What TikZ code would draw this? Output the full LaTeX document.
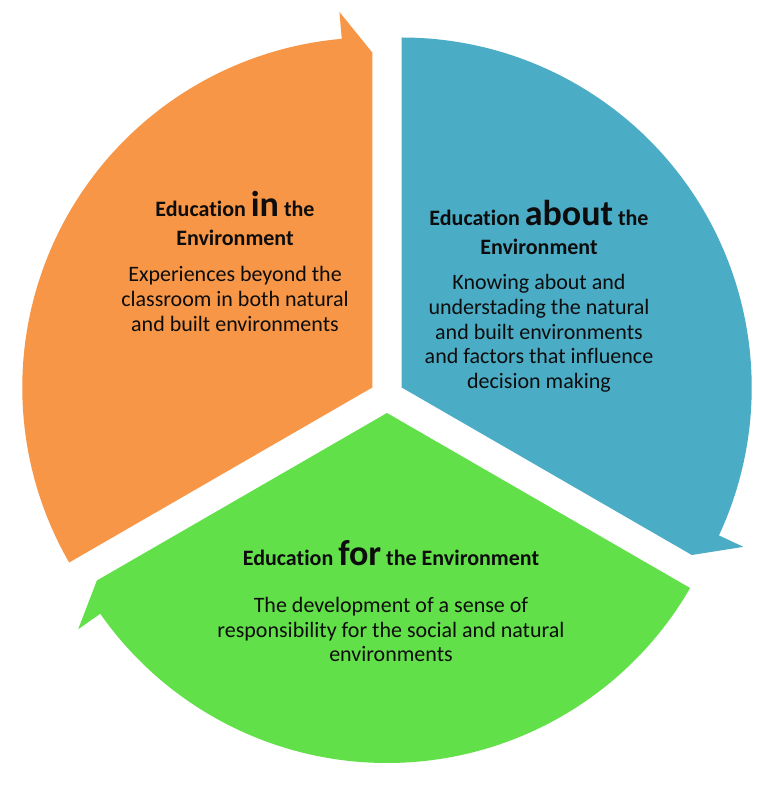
\documentclass[tikz,border=0pt]{standalone}
\usepackage{fontspec}
\setmainfont{Carlito}[Ligatures=NoCommon]
\definecolor{orangec}{RGB}{247,150,70}
\definecolor{bluec}{RGB}{75,172,198}
\definecolor{greenc}{RGB}{98,224,74}
\definecolor{txt}{RGB}{13,13,13}
\begin{document}
\begin{tikzpicture}[x=1pt,y=1pt,
  ln/.style={anchor=base, inner sep=0pt, text=txt, font=\fontsize{22}{25}\selectfont},
  hd/.style={anchor=base, inner sep=0pt, text=txt, font=\bfseries\fontsize{22}{24}\selectfont}]
\newcommand{\bigw}[1]{{\fontsize{36}{36}\selectfont #1}}
\fill[white] (-387,-404) rectangle (386,396);
\useasboundingbox (-387,-404) rectangle (386,396);
% orange sector
\begin{scope}[shift={(-14.72,8.5)}]
\fill[orangec] (0,0) -- (210:350) arc[start angle=210, end angle=95, radius=350] -- (95:377) -- (90:335) -- cycle;
\end{scope}
% blue sector
\begin{scope}[shift={(14.72,8.5)}]
\fill[bluec] (0,0) -- (90:350) arc[start angle=90, end angle=-25, radius=350] -- (-25:377) -- (-30:335) -- cycle;
\end{scope}
% green sector
\begin{scope}[shift={(0,-17)}]
\fill[greenc] (0,0) -- (330:350) arc[start angle=330, end angle=215, radius=350] -- (215:377) -- (210:335) -- cycle;
\end{scope}
% orange text
\node[hd] (o1) at (-152,179) {Education \bigw{in} the};
\node[hd] (o2) at (-152,150) {Environment};
\node[ln] (o3) at (-152,114) {Experiences beyond the};
\node[ln] (o4) at (-152,89) {classroom in both natural};
\node[ln] (o5) at (-152,64) {and built environments};
% blue text
\node[hd] (b1) at (152,170) {Education \bigw{about} the};
\node[hd] (b2) at (152,141) {Environment};
\node[ln] (b3) at (152,106) {Knowing about and};
\node[ln] (b4) at (152,81) {understading the natural};
\node[ln] (b5) at (152,56) {and built environments};
\node[ln] (b6) at (152,32) {and factors that influence};
\node[ln] (b7) at (152,8) {decision making};
% green text
\node[hd] (g1) at (4,-169) {Education \bigw{for} the Environment};
\node[ln] (g2) at (4,-216) {The development of a sense of};
\node[ln] (g3) at (4,-241) {responsibility for the social and natural};
\node[ln] (g4) at (4,-265) {environments};
\end{tikzpicture}
\end{document}
